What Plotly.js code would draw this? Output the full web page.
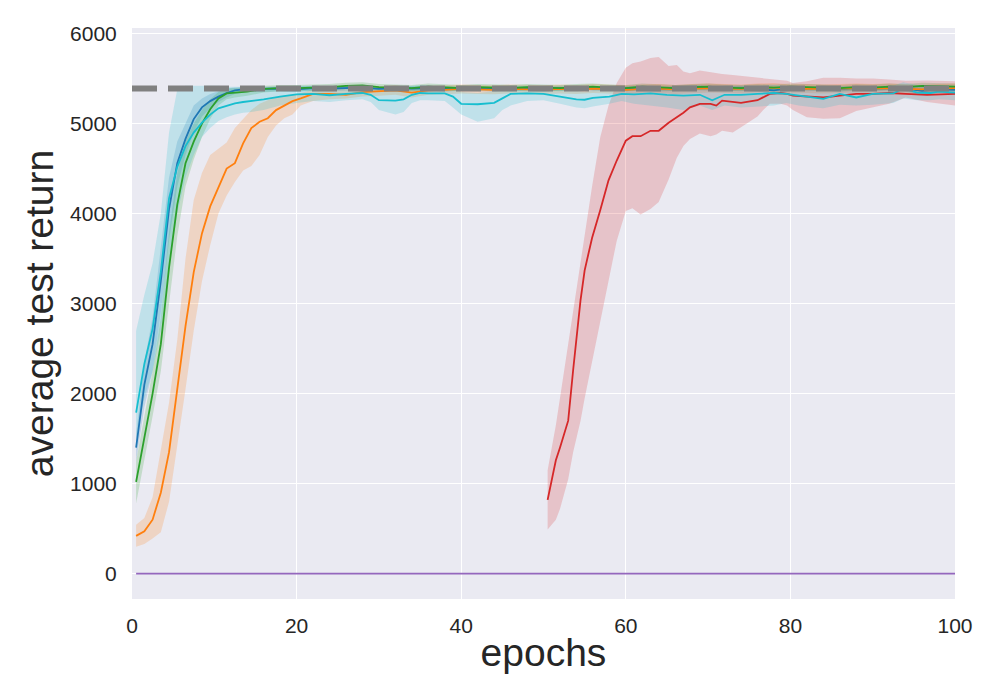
<!DOCTYPE html>
<html>
<head>
<meta charset="utf-8">
<script src="https://cdn.plot.ly/plotly-3.0.1.min.js"></script>
<style>
  html, body { margin: 0; padding: 0; background: #fff; }
  #graphDiv { width: 1000px; height: 700px; }
</style>
</head>
<body>
<div id="graphDiv"></div>
<script>
// training curves: mean test return per epoch with spread bands

const blueX = [0.5,1.5,2.5,3.5,4.5,5.5,6.5,7.5,8.5,9.5,10.5,11.5,12.5,14,16,18,20,22,24,26,28,30,32,34,36,38,40,42,44,46,48,50,52,54,56,58,60,62,64,66,68,70,72,74,76,78,80,82,84,86,88,90,92,94,96,98,100]
const blueMean = [1400,2100,2550,3250,4050,4560,4830,5050,5180,5250,5300,5340,5370,5385,5385,5390,5380,5395,5390,5395,5400,5385,5395,5390,5395,5385,5395,5390,5385,5395,5390,5385,5395,5400,5390,5395,5390,5395,5385,5395,5400,5395,5390,5395,5385,5370,5395,5390,5395,5385,5395,5390,5395,5390,5365,5380,5375]
const blueLo = [1250,1850,2250,2900,3700,4300,4650,4900,5080,5170,5240,5290,5330,5350,5355,5360,5350,5365,5360,5365,5370,5355,5365,5360,5365,5355,5365,5360,5355,5365,5360,5355,5365,5370,5360,5365,5360,5365,5355,5365,5370,5365,5360,5365,5355,5330,5365,5360,5365,5355,5365,5360,5365,5355,5320,5340,5340]
const blueHi = [1550,2350,2850,3600,4400,4800,5000,5200,5280,5330,5360,5390,5400,5410,5410,5415,5410,5420,5415,5420,5425,5410,5420,5415,5420,5410,5420,5415,5410,5420,5415,5410,5420,5425,5415,5420,5415,5420,5410,5420,5425,5420,5415,5420,5410,5405,5420,5415,5420,5410,5420,5415,5420,5420,5405,5415,5410]

const orangeX = [0.5,1.5,2.5,3.5,4.5,5.5,6.5,7.5,8.5,9.5,10.5,11.5,12.5,13.5,14.5,15.5,16.5,17.5,18.5,19.5,20.5,22,24,26,28,30,32,34,36,38,40,42,44,46,48,50,52,54,56,58,60,62,64,66,68,70,72,74,76,78,80,82,84,86,88,90,92,94,96,98,100]
const orangeMean = [420,470,600,900,1350,2050,2750,3350,3780,4080,4300,4500,4560,4780,4950,5020,5060,5150,5200,5250,5280,5330,5330,5320,5350,5360,5370,5345,5370,5375,5385,5380,5375,5385,5380,5375,5385,5380,5390,5380,5375,5385,5390,5380,5385,5395,5390,5385,5395,5400,5385,5390,5385,5390,5395,5390,5395,5385,5380,5390,5395]
const orangeLo = [300,330,390,460,800,1400,2050,2700,3250,3650,4000,4200,4350,4480,4530,4650,4850,4980,5060,5100,5200,5250,5270,5280,5300,5310,5320,5290,5320,5325,5335,5330,5325,5335,5330,5325,5335,5330,5340,5330,5325,5335,5340,5330,5335,5345,5340,5335,5345,5350,5335,5340,5335,5340,5345,5340,5345,5335,5330,5340,5345]
const orangeHi = [545,620,850,1400,1900,2600,3500,4150,4450,4650,4720,4790,4950,5050,5150,5220,5260,5290,5310,5320,5340,5380,5390,5400,5410,5420,5425,5400,5420,5425,5435,5430,5425,5435,5430,5425,5435,5430,5440,5430,5425,5435,5440,5430,5435,5445,5440,5435,5445,5450,5435,5440,5435,5440,5445,5440,5445,5435,5430,5440,5445]

const greenX = blueX
const greenMean = [1020,1500,2000,2550,3400,4100,4560,4800,5000,5160,5280,5335,5345,5355,5385,5395,5395,5400,5405,5420,5425,5405,5400,5395,5410,5400,5395,5405,5400,5395,5405,5400,5395,5405,5410,5400,5395,5410,5400,5395,5405,5410,5400,5395,5405,5400,5410,5405,5400,5395,5405,5400,5410,5405,5420,5415,5410]
const greenLo = [780,1250,1750,2250,3000,3750,4300,4600,4850,5050,5200,5270,5290,5310,5345,5360,5360,5365,5370,5385,5390,5370,5365,5360,5375,5365,5360,5370,5365,5360,5370,5365,5360,5370,5375,5365,5360,5375,5365,5360,5370,5375,5365,5360,5370,5365,5375,5370,5365,5360,5370,5365,5375,5370,5385,5380,5375]
const greenHi = [1250,1750,2250,2850,3800,4450,4800,5000,5150,5270,5350,5390,5395,5400,5420,5430,5430,5435,5440,5455,5460,5440,5435,5430,5445,5435,5430,5440,5435,5430,5440,5435,5430,5440,5445,5435,5430,5445,5435,5430,5440,5445,5435,5430,5440,5435,5445,5440,5435,5430,5440,5435,5445,5440,5455,5450,5445]

const redX = [50.5,51.5,52,53,53.6,54.5,55,55.9,56.9,57.9,58.9,60,60.8,61.8,63,64,65.2,66.2,67,67.8,69,70.3,71,71.7,73,74,76,76.7,77.5,78.8,79.6,80.3,82,84,86,88,90,92,94,96.6,100]
const redMean = [820,1260,1400,1700,2260,3040,3370,3730,4040,4370,4590,4810,4860,4860,4920,4920,5010,5070,5120,5180,5220,5220,5200,5255,5245,5230,5260,5290,5330,5340,5330,5310,5300,5290,5310,5330,5330,5340,5330,5320,5330]
const redLo = [490,600,720,1050,1350,1700,1950,2350,2800,3250,3700,4030,4060,3990,4050,4130,4380,4620,4750,4830,4890,4860,4880,4920,4900,4960,5080,5150,5220,5220,5200,5150,5070,5055,5060,5140,5180,5220,5290,5240,5200]
const redHi = [1150,1650,1950,2550,2900,3480,3760,4300,4850,5200,5450,5620,5670,5690,5730,5740,5640,5650,5580,5560,5590,5570,5560,5550,5540,5530,5510,5510,5500,5490,5475,5450,5470,5510,5510,5500,5500,5490,5475,5480,5470]

const purpleX = [0.5,100]
const purpleMean = [0,0]

const cyanX = [0.5,1.5,2.5,3.5,4.5,5.5,6.5,7.5,8.5,9.5,10.5,11.5,12.5,13.5,14.5,16,18,20,22,24,26,28,29,30,32,33,34,35,36,38,39,40,42,44,45,46,48,50,52,54,55,56,58,59.5,61,63,65,67,69,70.5,72,74,76,78,79.5,81,83,84,86,88,90,92.5,93.7,95.4,97,98,100]
const cyanMean = [1790,2330,2720,3350,4170,4520,4750,4900,5010,5100,5170,5200,5225,5240,5250,5270,5300,5325,5330,5315,5330,5340,5320,5260,5255,5270,5320,5340,5335,5335,5300,5220,5215,5230,5280,5330,5335,5330,5300,5270,5265,5285,5300,5330,5325,5335,5320,5310,5320,5260,5320,5320,5330,5340,5330,5310,5290,5275,5330,5290,5330,5335,5390,5345,5340,5355,5345]
const cyanLo = [1500,1950,2250,2700,3400,4000,4400,4650,4850,4950,5030,5070,5100,5120,5130,5150,5200,5230,5250,5240,5260,5270,5240,5150,5100,5130,5230,5260,5260,5250,5180,5100,5020,5060,5150,5200,5250,5260,5220,5180,5170,5190,5220,5250,5220,5200,5180,5150,5200,5150,5200,5180,5190,5200,5230,5200,5180,5170,5210,5200,5210,5230,5280,5260,5260,5270,5260]
const cyanHi = [2700,3100,3450,4000,4900,5380,5420,5420,5420,5420,5420,5410,5410,5410,5400,5400,5410,5420,5420,5410,5420,5420,5410,5380,5400,5410,5420,5430,5420,5420,5410,5350,5340,5360,5400,5420,5420,5410,5390,5360,5350,5370,5390,5410,5420,5420,5410,5420,5430,5400,5420,5420,5420,5430,5420,5410,5400,5390,5420,5400,5420,5420,5460,5430,5420,5430,5420]

const targetX = [0,100]
const targetY = [5390,5390]

const yTicks = [0,1000,2000,3000,4000,5000,6000]
const xTicks = [0,20,40,60,80,100]

const series = [
    {x: blueX, m: blueMean, lo: blueLo, hi: blueHi, color: '31,119,180'},
    {x: orangeX, m: orangeMean, lo: orangeLo, hi: orangeHi, color: '255,127,14'},
    {x: greenX, m: greenMean, lo: greenLo, hi: greenHi, color: '44,160,44'},
    {x: redX, m: redMean, lo: redLo, hi: redHi, color: '214,39,40'},
    {x: purpleX, m: purpleMean, lo: null, hi: null, color: '148,103,189'},
    {x: cyanX, m: cyanMean, lo: cyanLo, hi: cyanHi, color: '23,190,207'},
]

let traces = []
// bands go underneath every line (like matplotlib's collections)
series.forEach(s => {
    if (!s.lo) return
    traces.push({x: s.x, y: s.lo, type: 'scatter', mode: 'lines',
        line: {width: 0, color: `rgba(${s.color},0)`}, hoverinfo: 'skip', showlegend: false})
    traces.push({x: s.x, y: s.hi, type: 'scatter', mode: 'lines', fill: 'tonexty',
        fillcolor: `rgba(${s.color},0.2)`,
        line: {width: 0, color: `rgba(${s.color},0)`}, hoverinfo: 'skip', showlegend: false})
})
series.forEach(s => {
    traces.push({x: s.x, y: s.m, type: 'scatter', mode: 'lines',
        line: {width: 1.8, color: `rgb(${s.color})`}, showlegend: false})
})
traces.push({x: targetX, y: targetY, type: 'scatter', mode: 'lines',
    line: {width: 6, color: '#808080', dash: '25px,11px'}, showlegend: false})

const axisFont = {family: 'Liberation Sans, Arial, sans-serif', size: 21, color: '#262626'}
const titleFont = {family: 'Liberation Sans, Arial, sans-serif', size: 39, color: '#262626'}

const layout = {
    width: 1000,
    height: 700,
    margin: {l: 132, r: 45, t: 28, b: 101, pad: 0},
    paper_bgcolor: '#ffffff',
    plot_bgcolor: '#EAEAF2',
    showlegend: false,
    xaxis: {
        range: [0, 100],
        tickvals: xTicks,
        ticktext: xTicks.map(String),
        tickfont: axisFont,
        showgrid: true, gridcolor: '#ffffff', gridwidth: 1.3,
        zeroline: false, showline: false,
        ticks: 'outside', ticklen: 0, ticklabelstandoff: 8,
        title: {text: 'epochs', font: titleFont, standoff: 2},
        automargin: false
    },
    yaxis: {
        range: [-281, 6062],
        tickvals: yTicks,
        ticktext: yTicks.map(String),
        tickfont: axisFont,
        showgrid: true, gridcolor: '#ffffff', gridwidth: 1.3,
        zeroline: false, showline: false,
        ticks: 'outside', ticklen: 0, ticklabelstandoff: 10,
        title: {text: 'average test return', font: titleFont, standoff: 4},
        automargin: false
    }
}

Plotly.newPlot('graphDiv', traces, layout, {staticPlot: true, displayModeBar: false})
</script>
</body>
</html>
